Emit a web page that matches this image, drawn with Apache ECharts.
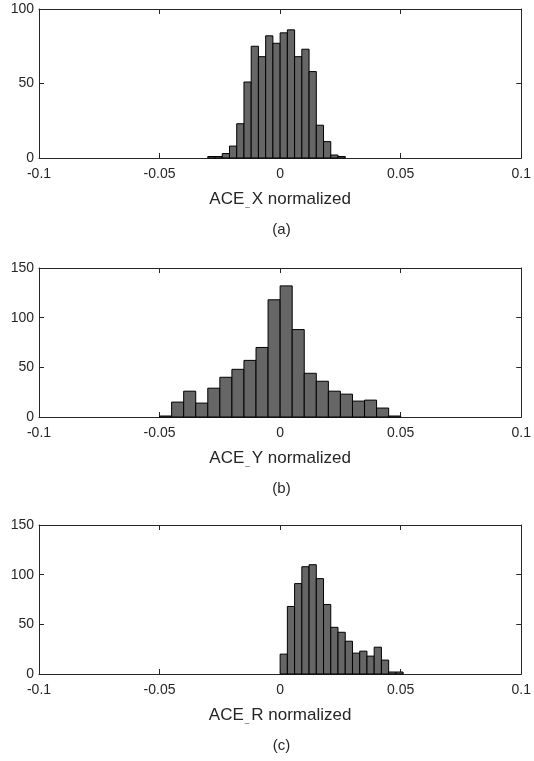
<!DOCTYPE html>
<html>
<head>
<meta charset="utf-8">
<script src="https://cdn.jsdelivr.net/npm/echarts@6/dist/echarts.min.js"></script>
<style>
html,body{margin:0;padding:0;background:#fff;}
#main{width:534px;height:761px;}
</style>
</head>
<body>
<div id="main"></div>
<script>
// histogram counts
var countsX = [1, 1, 3, 8, 23, 51, 75, 68, 82, 77, 84, 86, 68, 73, 58, 22, 11, 2, 1]
var countsY = [1, 15, 26, 14, 29, 40, 48, 57, 70, 118, 132, 88, 44, 36, 26, 23, 16, 17, 9, 1]
var countsR = [20, 68, 91, 108, 110, 96, 70, 47, 42, 33, 21, 23, 18, 27, 14, 2, 2]
// first bin edge and bin width of each panel
var startX = -0.03, widthX = 0.003
var startY = -0.05, widthY = 0.005
var startR = 0, widthR = 0.003
var xTicks = [-0.1, 0.1, 0.05]   // min, max, step
var yMaxX = 100, yMaxY = 150, yMaxR = 150
var xNames = ['X', 'Y', 'R']
var captions = ['(a)', '(b)', '(c)']

var AXIS = '#262626'
var FONT = '"Liberation Sans", Arial, sans-serif'
var tops = [9, 268, 525]
var plotH = 149

function binData (counts, start, w) {
  let out = []
  for (let i = 0; i < counts.length; i++) {
    out.push([start + i * w, start + (i + 1) * w, counts[i]])
  }
  return out
}

function renderBin (params, api) {
  let p0 = api.coord([api.value(0), api.value(2)])
  let p1 = api.coord([api.value(1), 0])
  return {
    type: 'rect',
    shape: { x: p0[0], y: p0[1], width: p1[0] - p0[0], height: p1[1] - p0[1] },
    style: { fill: '#666666', stroke: '#000', lineWidth: 1 }
  }
}

function boxAxis (extra) {
  let ax = {
    type: 'value',
    axisLine: { show: true, onZero: false, lineStyle: { color: AXIS, width: 1 } },
    axisTick: { show: true, inside: true, length: 5, lineStyle: { color: AXIS } },
    splitLine: { show: false },
    axisLabel: { show: false }
  }
  return Object.assign(ax, extra)
}

var grids = [], xAxes = [], yAxes = [], series = [], graphics = []
var data = [binData(countsX, startX, widthX), binData(countsY, startY, widthY), binData(countsR, startR, widthR)]
var yMax = [yMaxX, yMaxY, yMaxR]

for (let i = 0; i < 3; i++) {
  grids.push({ left: 39, right: 10, top: tops[i], height: plotH })
  // bottom axis with labels + name
  xAxes.push(boxAxis({
    gridIndex: i, min: xTicks[0], max: xTicks[1], interval: xTicks[2],
    position: 'bottom',
    axisLabel: { color: '#262626', fontSize: 14, fontFamily: FONT, margin: 9 },
    name: '{n|ACE}{s|_}{n|' + xNames[i] + ' normalized}',
    nameLocation: 'middle',
    nameGap: 33,
    nameTextStyle: {
      rich: {
        n: { fontSize: 17, fontFamily: FONT, color: '#262626' },
        s: { fontSize: 8, fontFamily: FONT, color: '#262626', verticalAlign: 'bottom', padding: [0, 2, 0, 1] }
      }
    }
  }))
  // top axis: box edge + inward ticks
  xAxes.push(boxAxis({
    gridIndex: i, min: xTicks[0], max: xTicks[1], interval: xTicks[2],
    position: 'top'
  }))
  yAxes.push(boxAxis({
    gridIndex: i, min: 0, max: yMax[i], interval: 50,
    position: 'left',
    axisLabel: { color: '#262626', fontSize: 14, fontFamily: FONT, margin: 5 }
  }))
  yAxes.push(boxAxis({
    gridIndex: i, min: 0, max: yMax[i], interval: 50,
    position: 'right'
  }))
  series.push({
    type: 'custom',
    xAxisIndex: i * 2,
    yAxisIndex: i * 2,
    renderItem: renderBin,
    encode: { x: [0, 1], y: 2 },
    data: data[i],
    silent: true,
    animation: false
  })
  graphics.push({
    type: 'text',
    x: 281.5,
    y: tops[i] + plotH + 72,
    style: {
      text: captions[i], fill: '#262626', font: '15px ' + FONT,
      textAlign: 'center', textVerticalAlign: 'middle'
    }
  })
}

var chart = echarts.init(document.getElementById('main'))
chart.setOption({
  backgroundColor: '#fff',
  animation: false,
  grid: grids,
  xAxis: xAxes,
  yAxis: yAxes,
  series: series,
  graphic: graphics
})
</script>
</body>
</html>
